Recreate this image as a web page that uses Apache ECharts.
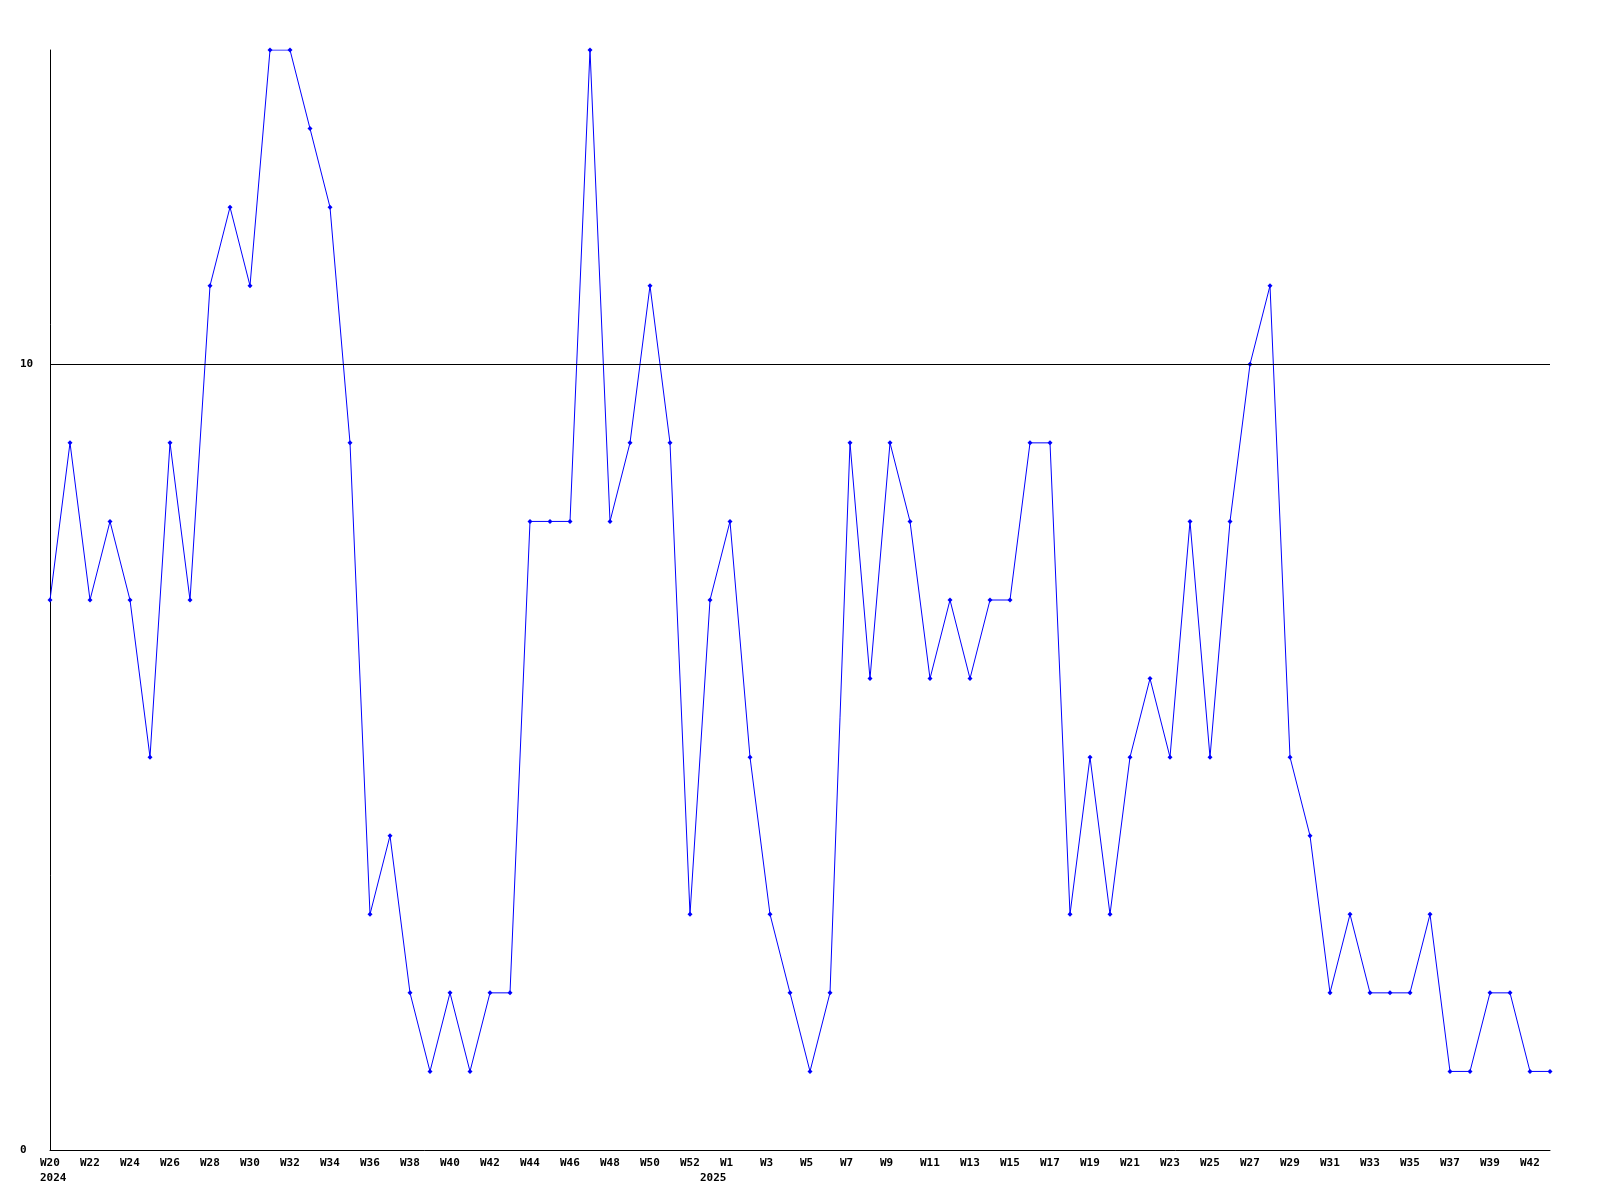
<!DOCTYPE html>
<html>
<head>
<meta charset="utf-8">
<script src="https://cdn.jsdelivr.net/npm/echarts@6/dist/echarts.min.js"></script>
<style>html,body{margin:0;padding:0;background:#fff}#c{width:1600px;height:1200px}</style>
</head>
<body>
<div id="c"></div>
<script>
// Tick labels per weekly point ('' = no label); year shown on second line
const weekLabels = [
  'W20','', 'W22','', 'W24','', 'W26','', 'W28','', 'W30','', 'W32','', 'W34','', 'W36','', 'W38','',
  'W40','', 'W42','', 'W44','', 'W46','', 'W48','', 'W50','', 'W52','', 'W1','', 'W3','', 'W5','',
  'W7','', 'W9','', 'W11','', 'W13','', 'W15','', 'W17','', 'W19','', 'W21','', 'W23','', 'W25','',
  'W27','', 'W29','', 'W31','', 'W33','', 'W35','', 'W37','', 'W39','', 'W42',''
];
const yearLabels = {0: '2024', 33: '2025'};
const values = [
  7, 9, 7, 8, 7, 5, 9, 7, 11, 12, 11, 14, 14, 13, 12, 9, 3, 4, 2, 1,
  2, 1, 2, 2, 8, 8, 8, 14, 8, 9, 11, 9, 3, 7, 8, 5, 3, 2, 1, 2,
  9, 6, 9, 8, 6, 7, 6, 7, 7, 9, 9, 3, 5, 3, 5, 6, 5, 8, 5, 8,
  10, 11, 5, 4, 2, 3, 2, 2, 2, 3, 1, 1, 2, 2, 1, 1
];
const yTicks = [0, 10];
const refLines = [10];

const chart = echarts.init(document.getElementById('c'));
const font = '"DejaVu Sans Mono", monospace';
chart.setOption({
  animation: false,
  backgroundColor: '#fff',
  grid: {left: 50, right: 50, top: 50, bottom: 50},
  xAxis: {
    type: 'category',
    data: values.map((_, i) => String(i)),
    boundaryGap: false,
    axisLine: {lineStyle: {color: '#000', width: 1}},
    axisTick: {show: false},
    splitLine: {show: false},
    axisLabel: {
      interval: 0,
      margin: 6,
      formatter: (v, i) => {
        const w = weekLabels[i] || '';
        const y = yearLabels[i];
        if (!w && !y) return '';
        return '{a|' + w + '}' + (y ? '\n{a|' + y + '}' : '');
      },
      rich: {a: {width: 20, align: 'left', fontFamily: font, fontWeight: 'bold', fontSize: 11, color: '#000', lineHeight: 15}}
    }
  },
  yAxis: {
    type: 'value',
    min: 0, max: 14, interval: 10,
    axisLine: {show: true, lineStyle: {color: '#000', width: 1}},
    axisTick: {show: false},
    splitLine: {show: false},
    axisLabel: {
      margin: 30, align: 'left',
      fontFamily: font, fontWeight: 'bold', fontSize: 11, color: '#000',
      formatter: v => yTicks.includes(v) ? String(v) : ''
    }
  },
  series: [{
    type: 'line',
    data: values,
    symbol: 'diamond',
    symbolSize: 5,
    showAllSymbol: true,
    lineStyle: {color: '#0000ff', width: 1},
    itemStyle: {color: '#0000ff'},
    markLine: {
      silent: true, symbol: 'none', label: {show: false},
      lineStyle: {color: '#000', type: 'solid', width: 1},
      data: refLines.map(v => ({yAxis: v}))
    }
  }]
});
</script>
</body>
</html>
